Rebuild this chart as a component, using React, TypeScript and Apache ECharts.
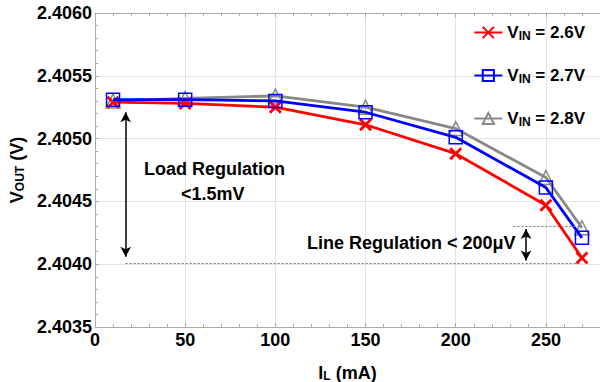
import React, { useEffect, useRef } from "react";
import * as echarts from "echarts";

const currents = [10, 50, 100, 150, 200, 250, 270];
const vin26 = [2.40529, 2.40528, 2.40525, 2.40511, 2.40488, 2.40447, 2.40405];
const vin27 = [2.40531, 2.40531, 2.4053, 2.40521, 2.40501, 2.40461, 2.40421];
const vin28 = [2.4053, 2.40532, 2.40534, 2.40525, 2.40508, 2.40469, 2.40429];
const seriesNames = ["VIN = 2.6V", "VIN = 2.7V", "VIN = 2.8V"];
const legendLabels = ["V{sub|IN} = 2.6V", "V{sub|IN} = 2.7V", "V{sub|IN} = 2.8V"];

// annotation geometry (data coordinates)
const loadArrow = [[17, 2.40521], [17, 2.40406]];
const lineArrow = [[239, 2.40428], [239, 2.40403]];
const lowerDash = [[17, 2.40401], [270, 2.40401]];
const upperDash = [[232, 2.4043], [270, 2.4043]];

const FONT = "'Liberation Sans', Arial, sans-serif";
const crossPath = "path://M0,0L10,10M10,0L0,10";

export default function App() {
  const ref = useRef<HTMLDivElement>(null);
  useEffect(() => {
    if (!ref.current) return;
    const chart = echarts.init(ref.current, undefined, { renderer: "svg" });
    const mk = (vals: number[]) => currents.map((c, i) => [c, vals[i]]);
    const subRich = {
      sub: { fontSize: 12, fontWeight: "bold", fontFamily: FONT, color: "#000", padding: [7, 0, 0, 0] },
    };
    const legendMap: Record<string, string> = {};
    seriesNames.forEach((n, i) => (legendMap[n] = legendLabels[i]));
    const txt = { fontSize: 18, fontWeight: "bold", fontFamily: FONT, color: "#000" };
    chart.setOption({
      animation: false,
      backgroundColor: "#fff",
      grid: { left: 95, right: 0, top: 13, bottom: 55, containLabel: false, outerBoundsMode: "none" },
      legend: {
        data: seriesNames,
        orient: "vertical",
        right: 10,
        top: 19,
        itemWidth: 28,
        itemHeight: 14,
        itemGap: 25,
        formatter: (n: string) => legendMap[n],
        textStyle: { ...txt, fontSize: 17, rich: subRich },
      },
      xAxis: [
        {
          type: "value",
          min: 0,
          max: 280,
          interval: 50,
          name: "I{sub|L} (mA)",
          nameLocation: "middle",
          nameGap: 36,
          nameTextStyle: { ...txt, rich: subRich },
          axisLine: { lineStyle: { color: "#aaa" } },
          axisTick: { inside: true, length: 4, lineStyle: { color: "#aaa" } },
          minorTick: { show: true, splitNumber: 5, length: 3, lineStyle: { color: "#aaa" } },
          splitLine: { show: true, lineStyle: { color: "#e4e4e4" } },
          axisLabel: { showMaxLabel: false, margin: 4, ...txt },
        },
        {
          type: "value",
          position: "top",
          min: 0,
          max: 280,
          interval: 50,
          axisLine: { show: true, lineStyle: { color: "#aaa" } },
          axisTick: { show: true, inside: true, length: 4, lineStyle: { color: "#aaa" } },
          minorTick: { show: true, splitNumber: 5, length: 3, lineStyle: { color: "#aaa" } },
          splitLine: { show: false },
          axisLabel: { show: false },
        },
      ],
      yAxis: {
        type: "value",
        min: 2.4035,
        max: 2.406,
        interval: 0.0005,
        name: "V{sub|OUT} (V)",
        nameLocation: "middle",
        nameGap: 68,
        nameRotate: 90,
        nameTextStyle: { ...txt, rich: subRich },
        axisLine: { show: true, lineStyle: { color: "#aaa" } },
        axisTick: { show: true, inside: true, length: 4, lineStyle: { color: "#aaa" } },
        minorTick: { show: true, splitNumber: 5, length: 3, lineStyle: { color: "#aaa" } },
        splitLine: { show: true, lineStyle: { color: "#e4e4e4" } },
        axisLabel: { margin: 3, ...txt, formatter: (v: number) => v.toFixed(4) },
      },
      series: [
        {
          name: seriesNames[0],
          type: "line",
          data: mk(vin26),
          symbol: crossPath,
          symbolSize: 11,
          color: "#ff0000",
          lineStyle: { color: "#ff0000", width: 2.8 },
          itemStyle: { color: "#ff0000", borderColor: "#ff0000", borderWidth: 2.8 },
          z: 3,
        },
        {
          name: seriesNames[1],
          type: "line",
          data: mk(vin27),
          symbol: "rect",
          symbolSize: 13,
          color: "#0000ff",
          lineStyle: { color: "#0000ff", width: 2.8 },
          itemStyle: { color: "rgba(255,255,255,0)", borderColor: "#0000ff", borderWidth: 1.5 },
          z: 4,
        },
        {
          name: seriesNames[2],
          type: "line",
          data: mk(vin28),
          symbol: "triangle",
          symbolSize: 14,
          color: "#888888",
          lineStyle: { color: "#888888", width: 2.8 },
          itemStyle: { color: "rgba(255,255,255,0)", borderColor: "#888888", borderWidth: 1.5 },
          z: 2,
        },
        {
          name: "dashes",
          type: "line",
          data: [],
          markLine: {
            silent: true,
            symbol: "none",
            label: { show: false },
            lineStyle: { color: "#777", width: 1, type: [2, 2] },
            data: [
              [{ coord: lowerDash[0] }, { coord: lowerDash[1] }],
              [{ coord: upperDash[0] }, { coord: upperDash[1] }],
            ],
          },
        },
        {
          name: "arrows",
          type: "line",
          data: [],
          markLine: {
            silent: true,
            symbol: ["arrow", "arrow"],
            symbolSize: [8, 10],
            label: { show: false },
            lineStyle: { color: "#000", width: 1.5, type: "solid" },
            data: [
              [{ coord: loadArrow[0] }, { coord: loadArrow[1] }],
              [{ coord: lineArrow[0] }, { coord: lineArrow[1] }],
            ],
          },
        },
      ],
      graphic: [
        {
          type: "text",
          left: 144,
          top: 160,
          z: 100,
          style: { text: "Load Regulation", font: `bold 18px ${FONT}`, fill: "#000" },
        },
        {
          type: "text",
          left: 181,
          top: 185,
          z: 100,
          style: { text: "<1.5mV", font: `bold 18px ${FONT}`, fill: "#000" },
        },
        {
          type: "text",
          left: 307,
          top: 234,
          z: 100,
          style: { text: "Line Regulation < 200μV", font: `bold 18px ${FONT}`, fill: "#000" },
        },
      ],
    });
    return () => chart.dispose();
  }, []);
  return <div ref={ref} style={{ width: 600, height: 382, position: "absolute", left: 0, top: 0 }} />;
}
